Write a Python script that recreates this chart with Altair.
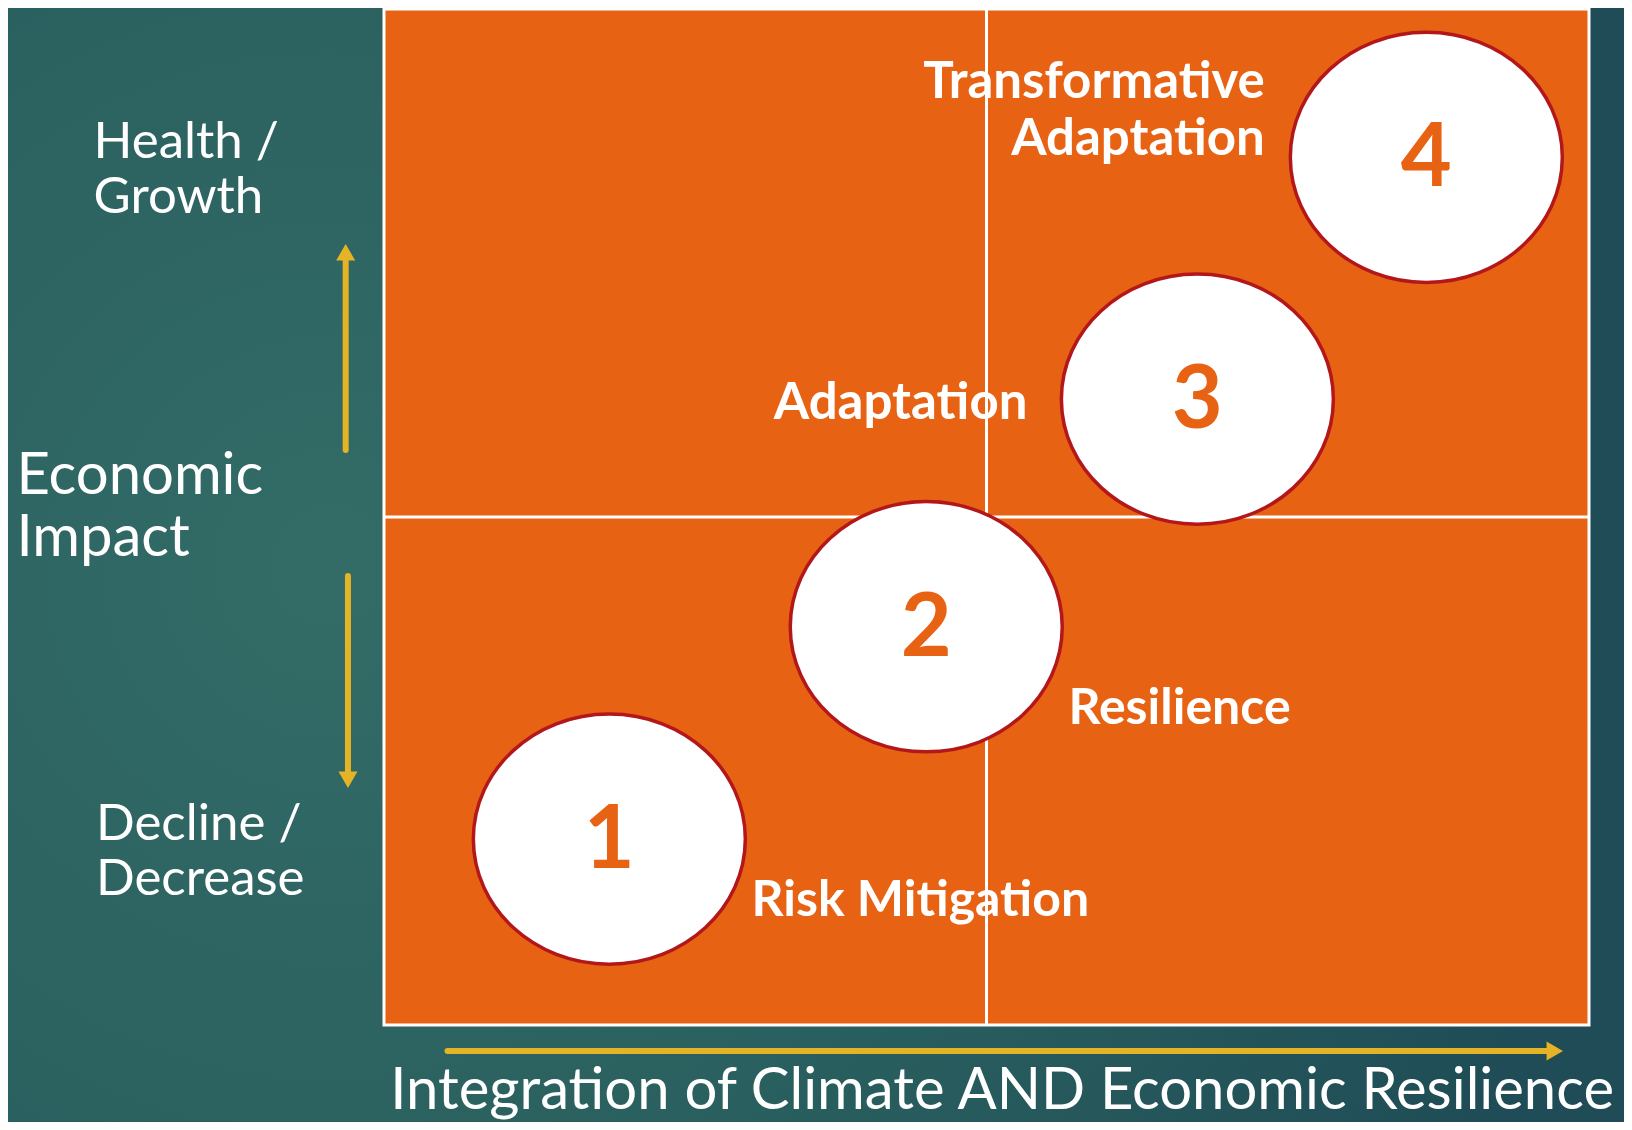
import altair as alt
import pandas as pd

# ---------------- data (in chart units; quadrant box spans 0..10 on both axes)
quad_x = [0, 10]
quad_y = [0, 10]
divider_x = [5]
divider_y = [5]

stage_num = ["1", "2", "3", "4"]
stage_x = [1.87, 4.50, 6.75, 8.65]
stage_y = [1.83, 3.92, 6.16, 8.54]

right_labels = ["Transformative", "Adaptation", "Adaptation"]
right_x = [7.31, 7.31, 5.34]
right_y = [9.27, 8.71, 6.11]

left_labels = ["Resilience", "Risk Mitigation"]
left_x = [5.68, 3.05]
left_y = [3.11, 1.22]

# first-line positions of the two-line side labels
side_small_text = ["Health /\nGrowth", "Decline /\nDecrease"]
side_small_x = [-2.41, -2.39]
side_small_y = [8.68, 1.97]

side_big_text = ["Economic\nImpact"]
side_big_x = [-3.05]
side_big_y = [5.39]

x_title = ["Integration of Climate AND Economic Resilience"]
x_title_x = [5.13]
x_title_y = [-0.66]

arrow_x1 = [-0.318, -0.299, 0.527]
arrow_x2 = [-0.318, -0.299, 9.716]
arrow_y1 = [5.66, 4.42, -0.256]
arrow_y2 = [7.606, 2.414, -0.256]
head_shape = ["triangle-up", "triangle-down", "triangle-right"]
head_x = [-0.318, -0.299, 9.716]
head_y = [7.606, 2.414, -0.256]

# ---------------- layout
W, H = 1616, 1114
X_DOM = [-3.1203, 10.2905]
Y_DOM = [-0.9547, 10.0098]

ORANGE = "#E86214"
GOLD = "#E4B426"
DARKRED = "#B3171A"
FONT = "Lato"

xs = alt.Scale(domain=X_DOM, nice=False, zero=False)
ys = alt.Scale(domain=Y_DOM, nice=False, zero=False)


def X(f="x"):
    return alt.X(f"{f}:Q", scale=xs, axis=None)


def Y(f="y"):
    return alt.Y(f"{f}:Q", scale=ys, axis=None)


bg_df = pd.DataFrame({"x": [X_DOM[0]], "x2": [X_DOM[1]], "y": [Y_DOM[0]], "y2": [Y_DOM[1]]})
background = alt.Chart(bg_df).mark_rect(
    fill=alt.RadialGradient(
        gradient="radial",
        x1=0.2, y1=0.5, r1=0.0,
        x2=0.2, y2=0.5, r2=0.8,
        stops=[
            alt.GradientStop(color="#336b67", offset=0),
            alt.GradientStop(color="#2b6260", offset=0.45),
            alt.GradientStop(color="#1f4c56", offset=1),
        ],
    ),
    strokeWidth=0,
).encode(x=X(), x2="x2", y=Y(), y2="y2")

box_df = pd.DataFrame({"x": [quad_x[0]], "x2": [quad_x[1]], "y": [quad_y[0]], "y2": [quad_y[1]]})
box = alt.Chart(box_df).mark_rect(fill=ORANGE, stroke="white", strokeWidth=3).encode(
    x=X(), x2="x2", y=Y(), y2="y2"
)

vdiv = alt.Chart(pd.DataFrame({"x": divider_x, "y": [quad_y[0]], "y2": [quad_y[1]]})).mark_rule(
    color="white", strokeWidth=3
).encode(x=X(), y=Y(), y2="y2")
hdiv = alt.Chart(pd.DataFrame({"y": divider_y, "x": [quad_x[0]], "x2": [quad_x[1]]})).mark_rule(
    color="white", strokeWidth=3
).encode(y=Y(), x=X(), x2="x2")

right_txt = alt.Chart(pd.DataFrame({"t": right_labels, "x": right_x, "y": right_y})).mark_text(
    align="right", baseline="middle", font=FONT, fontWeight="bold", fontSize=51, color="white"
).encode(x=X(), y=Y(), text="t:N")
left_txt = alt.Chart(pd.DataFrame({"t": left_labels, "x": left_x, "y": left_y})).mark_text(
    align="left", baseline="middle", font=FONT, fontWeight="bold", fontSize=50, color="white"
).encode(x=X(), y=Y(), text="t:N")

ELLIPSE = "M -1 0 A 1 0.92 0 1 1 1 0 A 1 0.92 0 1 1 -1 0 Z"
stage_df = pd.DataFrame({"n": stage_num, "x": stage_x, "y": stage_y})
ellipses = alt.Chart(stage_df).mark_point(
    shape=ELLIPSE, filled=True, fill="white", fillOpacity=1, stroke=DARKRED, strokeWidth=3.5,
    size=73984, opacity=1
).encode(x=X(), y=Y())
numbers = alt.Chart(stage_df).mark_text(
    align="center", baseline="middle", font=FONT, fontWeight="bold", fontSize=88, color=ORANGE, dy=3
).encode(x=X(), y=Y(), text="n:N")

side_small = alt.Chart(pd.DataFrame({"t": side_small_text, "x": side_small_x, "y": side_small_y})).mark_text(
    align="left", baseline="middle", font=FONT, fontSize=51, color="white", lineBreak="\n", lineHeight=55
).encode(x=X(), y=Y(), text="t:N")
side_big = alt.Chart(pd.DataFrame({"t": side_big_text, "x": side_big_x, "y": side_big_y})).mark_text(
    align="left", baseline="middle", font=FONT, fontSize=58, color="white", lineBreak="\n", lineHeight=62
).encode(x=X(), y=Y(), text="t:N")

xtitle = alt.Chart(pd.DataFrame({"t": x_title, "x": x_title_x, "y": x_title_y})).mark_text(
    align="center", baseline="middle", font=FONT, fontSize=58, color="white"
).encode(x=X(), y=Y(), text="t:N")

arrows = alt.Chart(pd.DataFrame({"x": arrow_x1, "x2": arrow_x2, "y": arrow_y1, "y2": arrow_y2})).mark_rule(
    color=GOLD, strokeWidth=6, strokeCap="round"
).encode(x=X(), x2="x2", y=Y(), y2="y2")
heads = alt.Chart(pd.DataFrame({"s": head_shape, "x": head_x, "y": head_y})).mark_point(
    filled=True, fill=GOLD, fillOpacity=1, strokeWidth=0, size=361, opacity=1
).encode(x=X(), y=Y(), shape=alt.Shape("s:N", scale=None, legend=None))

chart = alt.layer(
    background, box, vdiv, hdiv, right_txt, left_txt, ellipses, numbers,
    side_small, side_big, xtitle, arrows, heads
).properties(
    width=W, height=H, padding=0, autosize=alt.AutoSizeParams(type="none"),
    background="#26595c"
).configure_view(stroke=None)

chart.save("out.html", embed_options={"renderer": "svg", "actions": False})
